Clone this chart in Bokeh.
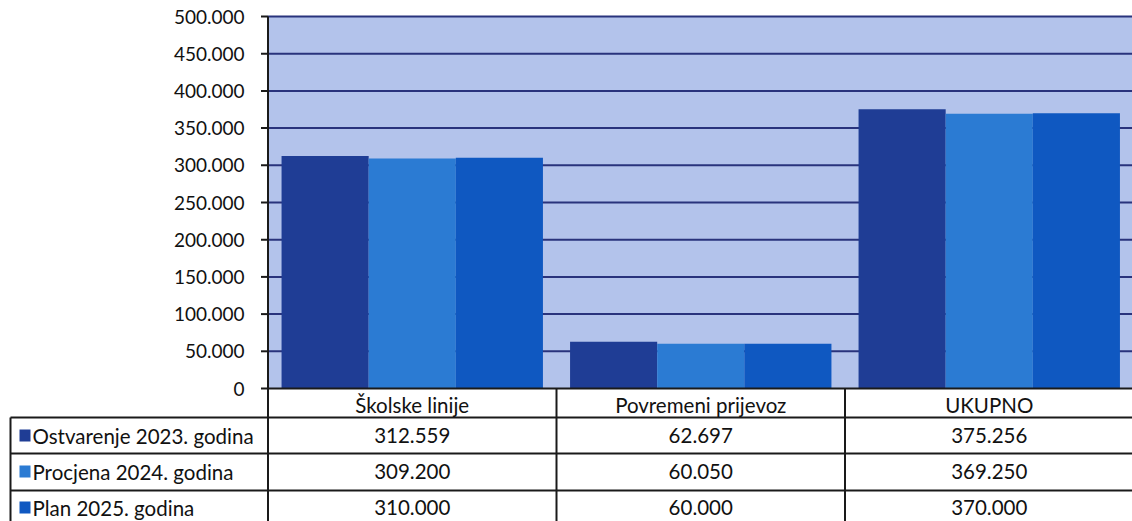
from bokeh.plotting import figure
from bokeh.models import ColumnDataSource, Range1d
from bokeh.transform import dodge
from bokeh.core.properties import value
from bokeh.embed import file_html
from bokeh.resources import INLINE

# ---------------- data ----------------
CATEGORIES = ["Školske linije", "Povremeni prijevoz", "UKUPNO"]
SERIES = ["Ostvarenje 2023. godina", "Procjena 2024. godina", "Plan  2025. godina"]
OSTVARENJE_2023 = [312559, 62697, 375256]
PROCJENA_2024 = [309200, 60050, 369250]
PLAN_2025 = [310000, 60000, 370000]
Y_TICKS = [0, 50000, 100000, 150000, 200000, 250000, 300000, 350000, 400000, 450000, 500000]

# ---------------- layout / style ----------------
W, H = 1132, 521
OFF = 0
CAT0 = 267.5              # px of first category boundary
CAT_W = 288.5             # px per category
Y0 = 388                  # px of value 0
Y_TOP = 16                # px of the top of the plot area
VMAX = 500000
BAR_W = 0.302
COLORS = ["#1f3d95", "#2b7bd3", "#0f58c1"]
BG = "#b3c3eb"
GRID = "#29337c"
LINE = "#1a1a1a"
FONT = value("Lato")
FS = "20.5px"
TICK_FS = "19px"

def px2x(px):
    return (px - CAT0) / CAT_W

s = VMAX / (Y0 - Y_TOP)
x_range = Range1d(px2x(OFF), px2x(OFF + W))
y_range = Range1d(-(OFF + H - Y0) * s, VMAX + (Y_TOP - OFF) * s)

p = figure(width=W, height=H, x_range=x_range, y_range=y_range,
           x_axis_location=None, y_axis_location=None,
           toolbar_location=None, output_backend="svg", min_border=0)
p.outline_line_color = None
p.background_fill_color = "white"
p.border_fill_color = "white"
p.grid.visible = False
# table coordinates: px measured downward from value 0
p.extra_y_ranges = {"table": Range1d(OFF + H - Y0, OFF - Y0)}

x_left = px2x(CAT0)
x_right = x_range.end

# plot area background
p.quad(left=[x_left], right=[x_right], bottom=[0], top=[VMAX], fill_color=BG, line_color=None)

# gridlines
grid_vals = [t for t in Y_TICKS if t > 0]
p.segment(x0=[x_left] * len(grid_vals), x1=[x_right] * len(grid_vals),
          y0=grid_vals, y1=grid_vals, line_color=GRID, line_width=2)

# bars
src = ColumnDataSource(dict(x=[i + 0.5 for i in range(len(CATEGORIES))],
                            a=OSTVARENJE_2023, b=PROCJENA_2024, c=PLAN_2025))
for col, off, color in zip(["a", "b", "c"], [-BAR_W, 0, BAR_W], COLORS):
    p.vbar(x=dodge("x", off), top=col, width=BAR_W, bottom=0, source=src,
           fill_color=color, line_color=None)

# left axis line and ticks
p.segment(x0=[x_left], x1=[x_left], y0=[0], y1=[VMAX], line_color=LINE, line_width=2)
p.segment(x0=[px2x(CAT0 - 7)] * len(Y_TICKS), x1=[x_left] * len(Y_TICKS),
          y0=Y_TICKS, y1=Y_TICKS, line_color=LINE, line_width=2)
tick_labels = [f"{t:,}".replace(",", ".") for t in Y_TICKS]
p.text(x=[px2x(244)] * len(Y_TICKS), y=Y_TICKS, text=tick_labels,
       text_align="right", text_baseline="middle", text_font=FONT,
       text_font_size=TICK_FS, text_color="#111111")

# ---------------- data table ----------------
ROW_EDGES = [0, 29, 65, 102, OFF + H - Y0]   # px below value 0
n = len(CATEGORIES)
col_x = [px2x(CAT0 + i * CAT_W) for i in range(n + 1)]
# header top line
p.segment(x0=[x_left], x1=[x_right], y0=[0], y1=[0], y_range_name="table",
          line_color=LINE, line_width=2)
# horizontal row lines
hl = ROW_EDGES[1:-1]
p.segment(x0=[px2x(10)] * len(hl), x1=[x_right] * len(hl), y0=hl, y1=hl,
          y_range_name="table", line_color=LINE, line_width=2)
# vertical lines
p.segment(x0=[px2x(10)], x1=[px2x(10)], y0=[ROW_EDGES[1]], y1=[ROW_EDGES[-1]],
          y_range_name="table", line_color=LINE, line_width=2)
p.segment(x0=col_x, x1=col_x, y0=[0] * len(col_x), y1=[ROW_EDGES[-1]] * len(col_x),
          y_range_name="table", line_color=LINE, line_width=2)

# header texts
p.text(x=[i + 0.5 for i in range(n)], y=[16] * n, text=CATEGORIES, y_range_name="table",
       text_align="center", text_baseline="middle", text_font=FONT,
       text_font_size=FS, text_color="#111111")

row_y = [47, 83, 119]
series_vals = [OSTVARENJE_2023, PROCJENA_2024, PLAN_2025]
for r, (name, vals, color) in enumerate(zip(SERIES, series_vals, COLORS)):
    p.rect(x=[px2x(24.5)], y=[row_y[r]], width=11, height=12, width_units="screen",
           height_units="screen", y_range_name="table", fill_color=color, line_color=None)
    p.text(x=[px2x(32)], y=[row_y[r]], text=[name], y_range_name="table",
           text_align="left", text_baseline="middle", text_font=FONT,
           text_font_size=FS, text_color="#111111")
    p.text(x=[i + 0.5 for i in range(n)], y=[row_y[r]] * n,
           text=[f"{v:,}".replace(",", ".") for v in vals], y_range_name="table",
           text_align="center", text_baseline="middle", text_font=FONT,
           text_font_size=FS, text_color="#111111")

open("out.html", "w").write(file_html(p, INLINE))
